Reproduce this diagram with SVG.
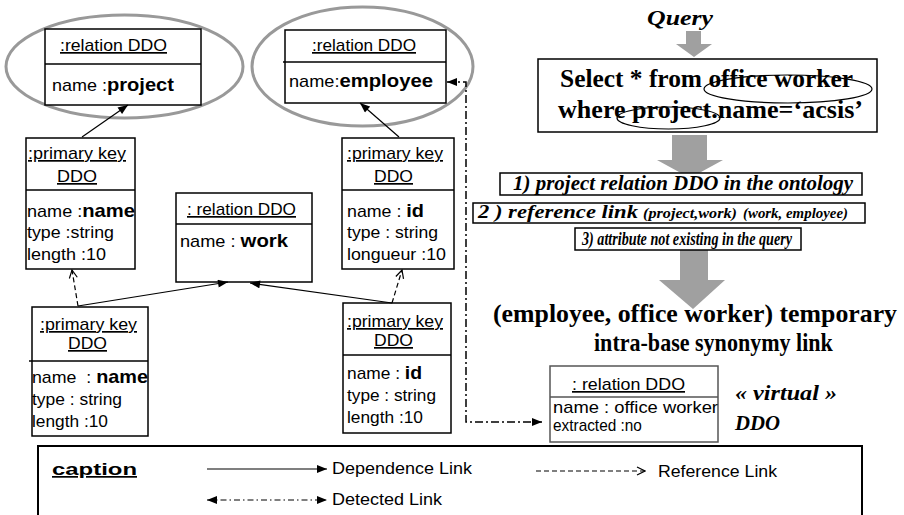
<svg xmlns="http://www.w3.org/2000/svg" width="904" height="515" viewBox="0 0 904 515">
  <style>
    .box { fill: #fff; stroke: #000; stroke-width: 1.5; }
    .div { stroke: #000; stroke-width: 1.5; }
    .halo { fill: none; stroke: #999; stroke-width: 3; }
    .ring { fill: none; stroke: #000; stroke-width: 1.2; }
    .t { font-family: "Liberation Sans", Arial, sans-serif; font-size: 17px; fill: #000; }
    .u { text-decoration: underline; }
    .b { font-weight: bold; font-size: 19px; }
    .s { font-family: "Liberation Serif", "Times New Roman", serif; font-weight: bold; fill: #000; }
    .i { font-style: italic; }
    .dep { fill: none; stroke: #000; stroke-width: 1.2; marker-end: url(#solidHead); }
    .ref { fill: none; stroke: #000; stroke-width: 1.2; stroke-dasharray: 5 3; marker-end: url(#openHead); }
    .det { fill: none; stroke: #000; stroke-width: 1.5; stroke-dasharray: 8 3 2 3; marker-start: url(#solidHeadBoth); marker-end: url(#solidHeadBoth); }
    .gray { fill: #a0a0a0; }
  </style>
  <defs>
    <marker id="solidHead" viewBox="0 0 10 8" refX="10" refY="4" markerWidth="11" markerHeight="8" markerUnits="userSpaceOnUse" orient="auto">
      <path d="M0,0 L10,4 L0,8 z" fill="#000"/>
    </marker>
    <marker id="solidHeadBoth" viewBox="0 0 10 8" refX="10" refY="4" markerWidth="11" markerHeight="8" markerUnits="userSpaceOnUse" orient="auto-start-reverse">
      <path d="M0,0 L10,4 L0,8 z" fill="#000"/>
    </marker>
    <marker id="openHead" viewBox="0 0 10 10" refX="9" refY="5" markerWidth="10" markerHeight="10" markerUnits="userSpaceOnUse" orient="auto">
      <path d="M1,1 L9,5 L1,9" fill="none" stroke="#000" stroke-width="1.2"/>
    </marker>
  </defs>

  <rect width="904" height="515" fill="#fff"/>

  <!-- ontology nodes -->
  <g id="rel-project">
    <ellipse class="halo" cx="124.5" cy="66.5" rx="118.5" ry="51.5"/>
    <rect class="box" x="45" y="29" width="156" height="76"/>
    <line class="div" x1="45" y1="64" x2="201" y2="64"/>
    <text class="t u" x="60" y="51" textLength="107" lengthAdjust="spacingAndGlyphs">:relation DDO</text>
    <text class="t" x="52" y="91" textLength="122" lengthAdjust="spacingAndGlyphs">name :<tspan class="b">project</tspan></text>
  </g>

  <g id="rel-employee">
    <ellipse class="halo" cx="362.5" cy="66.5" rx="110.5" ry="59.5"/>
    <rect class="box" x="285" y="30" width="161" height="73"/>
    <line class="div" x1="283" y1="62" x2="446" y2="62"/>
    <text class="t u" x="312" y="51" textLength="104" lengthAdjust="spacingAndGlyphs">:relation DDO</text>
    <text class="t" x="289" y="87" textLength="144" lengthAdjust="spacingAndGlyphs">name:<tspan class="b">employee</tspan></text>
  </g>

  <g id="pk-name-top">
    <rect class="box" x="26" y="138" width="109" height="131"/>
    <line class="div" x1="26" y1="190" x2="135" y2="190"/>
    <text class="t u" x="28" y="159" textLength="98" lengthAdjust="spacingAndGlyphs">:primary key</text>
    <text class="t u" x="57" y="182" textLength="40" lengthAdjust="spacingAndGlyphs">DDO</text>
    <text class="t" x="27" y="217" textLength="108" lengthAdjust="spacingAndGlyphs">name :<tspan class="b">name</tspan></text>
    <text class="t" x="27" y="238" textLength="87" lengthAdjust="spacingAndGlyphs">type :string</text>
    <text class="t" x="27" y="260" textLength="79" lengthAdjust="spacingAndGlyphs">length :10</text>
  </g>

  <g id="rel-work">
    <rect class="box" x="176" y="193" width="136" height="89"/>
    <line class="div" x1="176" y1="224" x2="312" y2="224"/>
    <text class="t u" x="187" y="215" textLength="109" lengthAdjust="spacingAndGlyphs">: relation DDO</text>
    <text class="t" x="180" y="247" textLength="108" lengthAdjust="spacingAndGlyphs">name : <tspan class="b">work</tspan></text>
  </g>

  <g id="pk-id-top">
    <rect class="box" x="342" y="138" width="112" height="131"/>
    <line class="div" x1="342" y1="190" x2="454" y2="190"/>
    <text class="t u" x="347" y="159" textLength="96" lengthAdjust="spacingAndGlyphs">:primary key</text>
    <text class="t u" x="374" y="182" textLength="39" lengthAdjust="spacingAndGlyphs">DDO</text>
    <text class="t" x="347" y="217" textLength="77" lengthAdjust="spacingAndGlyphs">name : <tspan class="b">id</tspan></text>
    <text class="t" x="347" y="238" textLength="91" lengthAdjust="spacingAndGlyphs">type : string</text>
    <text class="t" x="347" y="260" textLength="99" lengthAdjust="spacingAndGlyphs">longueur :10</text>
  </g>

  <g id="pk-name-bottom">
    <rect class="box" x="32" y="307" width="116" height="129"/>
    <line class="div" x1="29" y1="361" x2="148" y2="361"/>
    <text class="t u" x="40" y="330" textLength="97" lengthAdjust="spacingAndGlyphs">:primary key</text>
    <text class="t u" x="68" y="349" textLength="39" lengthAdjust="spacingAndGlyphs">DDO</text>
    <text class="t" x="32" y="383" textLength="116" lengthAdjust="spacingAndGlyphs">name&#160; : <tspan class="b">name</tspan></text>
    <text class="t" x="32" y="405" textLength="90" lengthAdjust="spacingAndGlyphs">type : string</text>
    <text class="t" x="32" y="427" textLength="76" lengthAdjust="spacingAndGlyphs">length :10</text>
  </g>

  <g id="pk-id-bottom">
    <rect class="box" x="343" y="303" width="108" height="130"/>
    <line class="div" x1="343" y1="355" x2="451" y2="355"/>
    <text class="t u" x="347" y="327" textLength="96" lengthAdjust="spacingAndGlyphs">:primary key</text>
    <text class="t u" x="374" y="346" textLength="39" lengthAdjust="spacingAndGlyphs">DDO</text>
    <text class="t" x="347" y="379" textLength="75" lengthAdjust="spacingAndGlyphs">name : <tspan class="b">id</tspan></text>
    <text class="t" x="347" y="401" textLength="89" lengthAdjust="spacingAndGlyphs">type : string</text>
    <text class="t" x="347" y="423" textLength="76" lengthAdjust="spacingAndGlyphs">length :10</text>
  </g>

  <!-- query processing steps -->
  <g id="query">
    <text class="s i" x="647" y="25" font-size="20" textLength="66" lengthAdjust="spacingAndGlyphs">Query</text>
    <path class="gray" d="M686,31 H701 V44 H712 L694,57 L676,44 H686 Z"/>
  </g>

  <g id="select">
    <path class="gray" d="M672,135 H707 V160 H723 L690,178 L657,160 H672 Z"/>
    <rect class="box" x="538" y="59" width="339" height="73"/>
    <text class="s" x="560" y="87" font-size="26" textLength="293" lengthAdjust="spacingAndGlyphs">Select * from office worker</text>
    <text class="s" x="558" y="118" font-size="26" textLength="305" lengthAdjust="spacingAndGlyphs">where project.name=‘acsis’</text>
    <ellipse class="ring" cx="788" cy="89" rx="84" ry="14"/>
    <ellipse class="ring" cx="668.5" cy="118" rx="51.5" ry="11"/>
  </g>

  <g id="step1">
    <rect class="box" x="500" y="173" width="362" height="22"/>
    <text class="s i" x="513" y="190" font-size="20" textLength="340" lengthAdjust="spacingAndGlyphs">1) project relation DDO in the ontology</text>
  </g>

  <g id="step2">
    <rect class="box" x="473" y="203" width="392" height="20"/>
    <text class="s i" x="478" y="218" font-size="19" textLength="160" lengthAdjust="spacingAndGlyphs">2 ) reference link</text>
    <text class="s i" x="643" y="218" font-size="14" textLength="94" lengthAdjust="spacingAndGlyphs">(project,work)</text>
    <text class="s i" x="743" y="218" font-size="14" textLength="105" lengthAdjust="spacingAndGlyphs">(work, employee)</text>
  </g>

  <g id="step3">
    <path class="gray" d="M680,250 H708 V280 H725 L693,309 L659,280 H680 Z"/>
    <rect class="box" x="575" y="228" width="226" height="22"/>
    <text class="s i" font-size="18" transform="matrix(0.787 0 0 1 582 245)">3) attribute not existing in the query</text>
  </g>

  <g id="synonymy">
    <text class="s" x="493" y="322" font-size="26" textLength="404" lengthAdjust="spacingAndGlyphs">(employee, office worker) temporary</text>
    <text class="s" font-size="25" transform="matrix(0.882 0 0 1 594 351)">intra-base synonymy link</text>
  </g>

  <g id="rel-office-worker">
    <rect x="550" y="366" width="168" height="76" fill="#fff" stroke="#555" stroke-width="1.5"/>
    <line x1="550" y1="397" x2="718" y2="397" stroke="#555" stroke-width="1.5"/>
    <text class="t u" x="572" y="390" textLength="113" lengthAdjust="spacingAndGlyphs">: relation DDO</text>
    <text class="t" x="553" y="413" textLength="165" lengthAdjust="spacingAndGlyphs">name : office worker</text>
    <text class="t" transform="matrix(0.905 0 0 1 553 431)">extracted :no</text>
  </g>

  <g id="virtual-label">
    <text class="s i" x="735" y="400" font-size="20" textLength="102" lengthAdjust="spacingAndGlyphs">« virtual »</text>
    <text class="s i" x="735" y="430" font-size="20" textLength="45" lengthAdjust="spacingAndGlyphs">DDO</text>
  </g>

  <!-- links between nodes -->
  <g id="connectors">
    <path class="dep" d="M82,137 L128,105"/>
    <path class="dep" d="M399,137 L360,103"/>
    <path class="dep" d="M78,306 L228,282"/>
    <path class="dep" d="M392,303 L250,283"/>
    <path class="ref" d="M78,306 L72,270"/>
    <path class="ref" d="M392,303 L402,270"/>
    <path class="det" d="M447,82 H466 V422 H542"/>
  </g>

  <!-- legend -->
  <g id="caption">
    <rect x="38" y="446" width="824" height="80" fill="#fff" stroke="#000" stroke-width="2"/>
    <text class="t u" x="52" y="475" font-weight="bold" font-size="21" textLength="85" lengthAdjust="spacingAndGlyphs">caption</text>
    <path class="dep" d="M207,469 H327"/>
    <text class="t" x="332" y="474" textLength="140" lengthAdjust="spacingAndGlyphs">Dependence Link</text>
    <path d="M207,500 H327" fill="none" stroke="#000" stroke-width="1.2" stroke-dasharray="6 3 1.5 3" marker-start="url(#solidHeadBoth)" marker-end="url(#solidHeadBoth)"/>
    <text class="t" x="332" y="505" textLength="110" lengthAdjust="spacingAndGlyphs">Detected Link</text>
    <path d="M536,471 H645" fill="none" stroke="#000" stroke-width="1.2" stroke-dasharray="5 3" marker-end="url(#openHead)"/>
    <text class="t" x="658" y="477" textLength="119" lengthAdjust="spacingAndGlyphs">Reference Link</text>
  </g>
</svg>
